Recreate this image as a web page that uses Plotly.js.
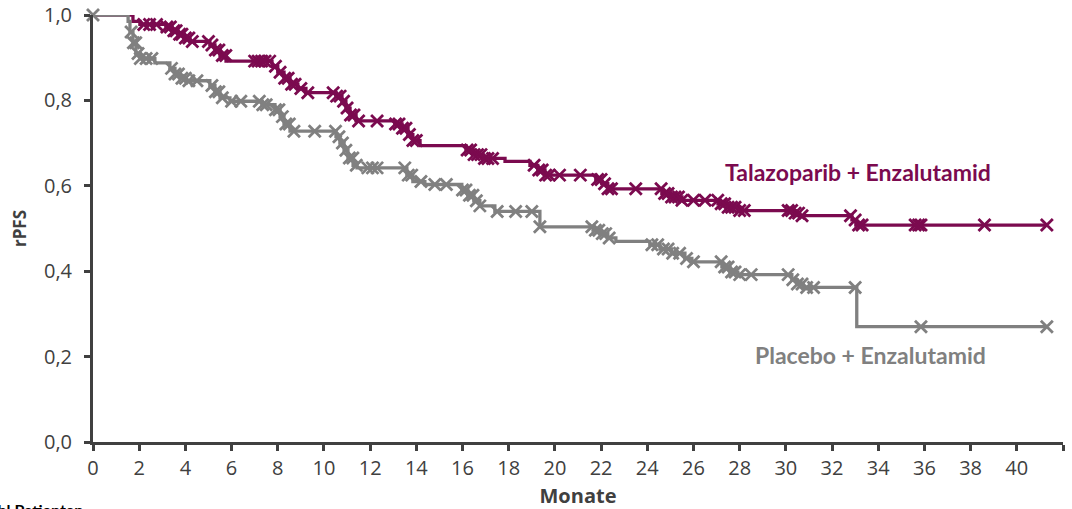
<!DOCTYPE html>
<html>
<head>
<meta charset="utf-8">
<script src="https://cdn.plot.ly/plotly-3.0.1.min.js"></script>
<style>
html,body{margin:0;padding:0;background:#fff;}
#chart{width:1072px;height:509px;}
</style>
</head>
<body>
<div id="chart"></div>
<script>
// Kaplan-Meier step data (months, rPFS)
const talaTimes = [0, 1.73, 2.03, 3.16, 3.42, 3.68, 3.94, 4.2, 5.06, 5.28, 5.5, 5.76, 7.75, 8.0, 8.27, 8.53, 8.87, 9.22, 10.52, 10.78, 10.95, 11.13, 11.39, 13.07, 13.38, 13.64, 13.85, 14.16, 16.15, 16.5, 16.84, 17.84, 18.92, 19.26, 19.57, 21.77, 22.03, 22.29, 24.63, 24.98, 25.5, 27.06, 27.49, 28.0, 30.39, 30.6, 32.86, 33.03];
const talaSurv  = [1.0, 0.985, 0.978, 0.972, 0.963, 0.955, 0.946, 0.938, 0.93, 0.918, 0.905, 0.892, 0.88, 0.866, 0.852, 0.838, 0.828, 0.818, 0.81, 0.798, 0.782, 0.766, 0.752, 0.745, 0.735, 0.72, 0.706, 0.694, 0.684, 0.673, 0.664, 0.657, 0.648, 0.637, 0.625, 0.615, 0.605, 0.593, 0.582, 0.574, 0.566, 0.558, 0.55, 0.542, 0.536, 0.53, 0.52, 0.508];
const talaCensor = [2.2, 2.45, 2.75, 3.2, 3.35, 3.5, 3.6, 3.75, 3.85, 4.0, 4.15, 4.3, 5.0, 5.15, 5.3, 5.45, 5.6, 5.75, 7.0, 7.15, 7.3, 7.45, 7.65, 7.9, 8.1, 8.3, 8.45, 8.6, 8.75, 9.0, 9.3, 10.4, 10.55, 10.7, 10.85, 11.0, 11.15, 11.3, 11.5, 12.3, 13.1, 13.25, 13.4, 13.55, 13.7, 13.85, 14.0, 16.2, 16.35, 16.5, 16.65, 16.8, 16.95, 17.1, 17.3, 19.1, 19.3, 19.45, 19.6, 19.75, 20.2, 21.1, 21.85, 22.0, 22.15, 22.3, 22.45, 23.5, 24.6, 24.75, 24.9, 25.05, 25.2, 25.35, 25.5, 26.0, 26.5, 27.05, 27.2, 27.35, 27.5, 27.65, 27.8, 28.0, 28.2, 30.1, 30.25, 30.4, 30.55, 30.7, 32.8, 33.0, 33.15, 33.3, 35.6, 35.75, 35.85, 38.6, 41.3];

const placTimes = [0, 1.52, 1.6, 1.73, 1.86, 2.03, 2.68, 3.33, 3.55, 3.77, 4.03, 5.06, 5.28, 5.5, 5.93, 7.32, 7.88, 8.1, 8.27, 8.53, 10.52, 10.69, 10.87, 11.04, 11.26, 11.43, 13.59, 13.85, 14.37, 15.97, 16.23, 16.49, 16.75, 17.4, 19.35, 21.65, 21.95, 22.29, 22.64, 24.11, 24.55, 25.06, 25.63, 25.93, 27.23, 27.58, 27.92, 30.26, 30.48, 30.74, 33.07];
const placSurv  = [1.0, 0.985, 0.96, 0.935, 0.91, 0.898, 0.888, 0.875, 0.862, 0.852, 0.846, 0.835, 0.82, 0.806, 0.798, 0.79, 0.778, 0.762, 0.745, 0.728, 0.715, 0.7, 0.683, 0.665, 0.648, 0.642, 0.625, 0.61, 0.603, 0.59, 0.578, 0.565, 0.553, 0.54, 0.504, 0.496, 0.488, 0.478, 0.47, 0.462, 0.452, 0.442, 0.43, 0.422, 0.41, 0.398, 0.392, 0.38, 0.37, 0.362, 0.27];
const placCensor = [0, 1.65, 1.75, 1.85, 1.95, 2.05, 2.3, 2.55, 3.4, 3.55, 3.7, 3.85, 4.0, 4.15, 4.5, 5.15, 5.3, 5.45, 5.6, 6.0, 6.4, 7.2, 7.35, 7.5, 7.9, 8.05, 8.2, 8.35, 8.5, 8.7, 9.6, 10.5, 10.65, 10.8, 10.95, 11.1, 11.25, 11.4, 11.9, 12.1, 12.3, 13.5, 13.65, 13.8, 14.2, 14.8, 15.3, 16.0, 16.15, 16.3, 16.45, 16.6, 16.75, 17.5, 18.3, 19.0, 19.35, 21.6, 21.75, 21.9, 22.05, 22.2, 22.35, 24.2, 24.45, 24.7, 24.9, 25.1, 25.4, 25.7, 26.0, 27.2, 27.35, 27.5, 27.65, 27.8, 28.0, 28.5, 30.1, 30.3, 30.5, 30.7, 30.9, 31.2, 33.0, 35.85, 41.3];

const endTime = 41.3;
const xTicks = [0,2,4,6,8,10,12,14,16,18,20,22,24,26,28,30,32,34,36,38,40,42];
const yTicks = [0,0.2,0.4,0.6,0.8,1.0];
const seriesNames = ["Talazoparib + Enzalutamid", "Placebo + Enzalutamid"];

const RED = '#7b0a4f', GRAY = '#808080', AX = '#404040';
const FONT = 'Lato, "Open Sans", sans-serif';
const AXFONT = '"Open Sans", Lato, sans-serif';

function stepAt(times, surv, t){
  let v = surv[0];
  for (let i=0;i<times.length;i++){ if (times[i] <= t) v = surv[i]; }
  return v;
}
function lineTrace(times, surv, color){
  return {x: times.concat([endTime]), y: surv.concat([surv[surv.length-1]]),
    mode:'lines', line:{shape:'hv', color:color, width:3.3}, hoverinfo:'skip', showlegend:false, cliponaxis:false};
}
function censorTrace(times, surv, cens, color){
  return {x: cens, y: cens.map(t=>stepAt(times,surv,t)), mode:'markers',
    marker:{symbol:'x-thin', size:12, color:color, line:{color:color, width:2.8}},
    hoverinfo:'skip', showlegend:false, cliponaxis:false};
}

const data = [
  lineTrace(talaTimes, talaSurv, RED),
  censorTrace(talaTimes, talaSurv, talaCensor, RED),
  lineTrace(placTimes, placSurv, GRAY),
  censorTrace(placTimes, placSurv, placCensor, GRAY)
];

const layout = {
  width:1072, height:509,
  margin:{l:93, r:9, t:15, b:67},
  paper_bgcolor:'#fff', plot_bgcolor:'#fff',
  separators:',.',
  font:{family:AXFONT, color:AX, size:20},
  xaxis:{range:[0,42], tickvals:xTicks, ticktext:xTicks.map(String), showgrid:false, zeroline:false,
    showline:true, linecolor:AX, linewidth:3, ticks:'outside', ticklen:6, tickwidth:3, tickcolor:AX,
    tickfont:{size:20, color:AX, family:AXFONT}, ticklabelstandoff:0,
    title:{text:'<b>Monate</b>', font:{size:20, color:AX, family:AXFONT}, standoff:10}},
  yaxis:{range:[0,1], tickvals:yTicks, tickformat:'.1f', showgrid:false, zeroline:false,
    showline:true, linecolor:AX, linewidth:3, ticks:'outside', ticklen:6, tickwidth:3, tickcolor:AX,
    tickfont:{size:20, color:AX, family:AXFONT}, ticklabelstandoff:8,
    title:{text:'<b>rPFS</b>', font:{size:17, color:AX, family:AXFONT}, standoff:14}},
  annotations:[
    {text:'<b>'+seriesNames[0]+'</b>', x:0.928, y:0.632, xref:'paper', yref:'paper', xanchor:'right', yanchor:'middle',
     showarrow:false, font:{size:23, color:RED, family:FONT}},
    {text:'<b>'+seriesNames[1]+'</b>', x:0.923, y:0.204, xref:'paper', yref:'paper', xanchor:'right', yanchor:'middle',
     showarrow:false, font:{size:23, color:GRAY, family:FONT}},
    {text:'<b>Anzahl Patienten</b>', x:-0.138, y:-0.158, xref:'paper', yref:'paper', xanchor:'left', yanchor:'middle',
     showarrow:false, font:{size:16, color:'#000', family:FONT}}
  ]
};

Plotly.newPlot('chart', data, layout, {displayModeBar:false, staticPlot:true});
</script>
</body>
</html>
